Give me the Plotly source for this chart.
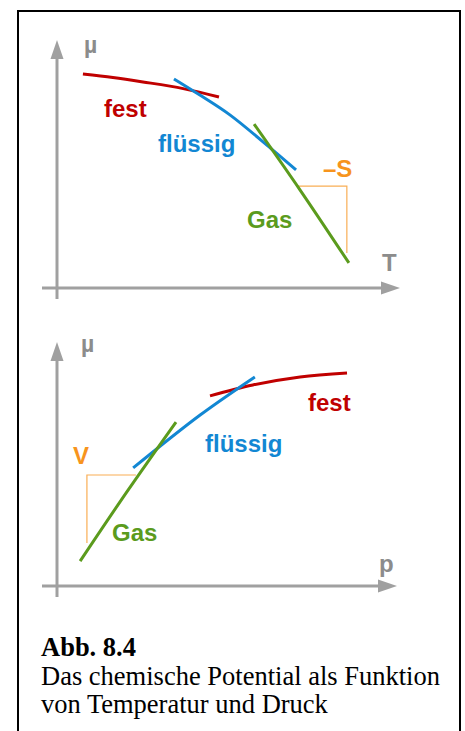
import plotly.graph_objects as go

# --- data (arbitrary units, 0..10 on each axis) ---
# top panel: mu as function of temperature T
t_fest_T = [0.76, 1.64, 2.52, 3.70, 4.75]
t_fest_mu = [8.63, 8.49, 8.31, 8.04, 7.70]
t_fluessig_T = [3.43, 4.19, 5.07, 6.33, 7.01]
t_fluessig_mu = [8.43, 7.78, 6.98, 5.56, 4.76]
t_gas_T = [5.78, 7.13, 8.56]
t_gas_mu = [6.61, 3.95, 1.01]
t_slope_T = [7.07, 8.50, 8.50]
t_slope_mu = [4.11, 4.11, 1.41]

# bottom panel: mu as function of pressure p
p_gas_p = [0.68, 2.09, 3.50]
p_gas_mu = [1.02, 3.93, 6.72]
p_fluessig_p = [2.24, 4.21, 5.82]
p_fluessig_mu = [4.84, 7.01, 8.57]
p_fest_p = [4.50, 5.76, 7.15, 8.53]
p_fest_mu = [7.79, 8.24, 8.57, 8.73]
p_slope_p = [2.32, 0.88, 0.88]
p_slope_mu = [4.55, 4.55, 1.76]

W, H = 465, 731
RED = "#C00000"
BLUE = "#1287D3"
GREEN = "#5B9B1D"
ORANGE = "#F7941D"
ORANGE_LINE = "#F9AE55"
GREY = "#A0A0A0"
GREY_TXT = "#8C8C8C"
SANS = "Liberation Sans"


def pp(x, y):
    return x / W, 1 - y / H


fig = go.Figure()

def curve(x, y, color, ax, width=3, shape="spline"):
    fig.add_trace(go.Scatter(
        x=x, y=y, mode="lines",
        line=dict(color=color, width=width, shape=shape),
        xaxis=ax[0], yaxis=ax[1], hoverinfo="skip", showlegend=False))

top = ("x", "y")
bot = ("x2", "y2")
curve(t_slope_T, t_slope_mu, ORANGE_LINE, top, 1.2, "linear")
curve(t_fest_T, t_fest_mu, RED, top)
curve(t_fluessig_T, t_fluessig_mu, BLUE, top)
curve(t_gas_T, t_gas_mu, GREEN, top)
curve(p_slope_p, p_slope_mu, ORANGE_LINE, bot, 1.2, "linear")
curve(p_fest_p, p_fest_mu, RED, bot)
curve(p_fluessig_p, p_fluessig_mu, BLUE, bot)
curve(p_gas_p, p_gas_mu, GREEN, bot)

shapes = []
# frame
x0, y0 = pp(18, 11)
x1, y1 = pp(460, 745)
shapes.append(dict(type="rect", xref="paper", yref="paper", x0=x0, y0=y1, x1=x1, y1=y0,
                   line=dict(color="black", width=2)))


def axis_arrows(ox, oy, xtip, ytip):
    # vertical axis
    a = pp(ox, oy + 11); b = pp(ox, ytip + 18)
    shapes.append(dict(type="line", xref="paper", yref="paper", x0=a[0], y0=a[1], x1=b[0], y1=b[1],
                       line=dict(color=GREY, width=3)))
    t = pp(ox, ytip); l = pp(ox - 6.5, ytip + 19); r = pp(ox + 6.5, ytip + 19)
    shapes.append(dict(type="path", xref="paper", yref="paper",
                       path=f"M{t[0]},{t[1]} L{l[0]},{l[1]} L{r[0]},{r[1]} Z",
                       fillcolor=GREY, line=dict(width=0)))
    # horizontal axis
    a = pp(ox - 15, oy); b = pp(xtip - 18, oy)
    shapes.append(dict(type="line", xref="paper", yref="paper", x0=a[0], y0=a[1], x1=b[0], y1=b[1],
                       line=dict(color=GREY, width=3)))
    t = pp(xtip, oy); u = pp(xtip - 19, oy - 6.5); d = pp(xtip - 19, oy + 6.5)
    shapes.append(dict(type="path", xref="paper", yref="paper",
                       path=f"M{t[0]},{t[1]} L{u[0]},{u[1]} L{d[0]},{d[1]} Z",
                       fillcolor=GREY, line=dict(width=0)))


axis_arrows(57, 288, 400, 40)
axis_arrows(57, 586, 397, 342)

annotations = []

def label(text, x, y, color, ax, size=24):
    annotations.append(dict(text=f"<b>{text}</b>", x=x, y=y, xref=ax[0], yref=ax[1],
                            showarrow=False, xanchor="center", yanchor="middle",
                            font=dict(family=SANS, size=size, color=color)))

label("µ", 0.97, 9.80, GREY_TXT, top, 23)
label("T", 9.75, 1.01, GREY_TXT, top)
label("fest", 2.02, 7.22, RED, top)
label("flüssig", 4.08, 5.81, BLUE, top)
label("Gas", 6.22, 2.78, GREEN, top)
label("–S", 8.24, 4.80, ORANGE, top)

label("µ", 0.91, 9.92, GREY_TXT, bot, 23)
label("p", 9.69, 0.94, GREY_TXT, bot)
label("V", 0.72, 5.33, ORANGE, bot)
label("Gas", 2.29, 2.21, GREEN, bot)
label("flüssig", 5.49, 5.86, BLUE, bot)
label("fest", 8.0, 7.54, RED, bot)

caption = ["<b>Abb. 8.4</b>", "Das chemische Potential als Funktion", "von Temperatur und Druck"]
for i, line in enumerate(caption):
    cx, cy = pp(39, 658 + i * 28.5)
    annotations.append(dict(text=line, x=cx, y=cy, xref="paper", yref="paper",
                            showarrow=False, xanchor="left", yanchor="bottom", yshift=-6,
                            font=dict(family="Liberation Serif", size=26.5, color="black")))

hidden = dict(visible=False, range=[0, 10], fixedrange=True)
fig.update_layout(
    width=W, height=H,
    margin=dict(l=0, r=0, t=0, b=0),
    paper_bgcolor="white", plot_bgcolor="white",
    showlegend=False,
    xaxis=dict(hidden, domain=[57 / W, 398 / W]),
    yaxis=dict(hidden, domain=[1 - 288 / H, 1 - 40 / H]),
    xaxis2=dict(hidden, domain=[57 / W, 397 / W], anchor="y2"),
    yaxis2=dict(hidden, domain=[1 - 586 / H, 1 - 342 / H], anchor="x2"),
    shapes=shapes,
    annotations=annotations,
)

fig.write_html("out.html", config={"displayModeBar": False},
               post_script="document.body.style.margin='0';document.body.style.overflow='hidden';")
